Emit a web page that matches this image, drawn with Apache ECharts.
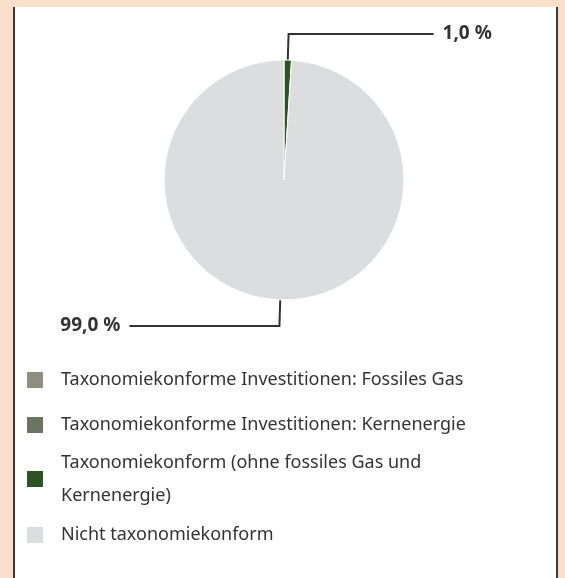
<!DOCTYPE html>
<html>
<head>
<meta charset="utf-8">
<script src="https://cdn.jsdelivr.net/npm/echarts@6/dist/echarts.min.js"></script>
<style>
  html, body { margin: 0; padding: 0; background: #fadfcb; }
  .out-frame { position: absolute; left: 13px; top: 7px; width: 541px; height: 580px;
    background: #fff; border-left: 2px solid #3a3a3a; border-right: 2px solid #3a3a3a; }
  #chart { position: absolute; left: 0; top: 0; width: 565px; height: 578px; }
</style>
</head>
<body>
<div class="out-frame"></div>
<div id="chart"></div>
<script>
  // Kategorien und Werte (Anteil in %)
  const categories = [
    'Taxonomiekonforme Investitionen: Fossiles Gas',
    'Taxonomiekonforme Investitionen: Kernenergie',
    'Taxonomiekonform (ohne fossiles Gas und Kernenergie)',
    'Nicht taxonomiekonform'
  ];
  const shares = [0, 0, 1.0, 99.0];
  const legendLines = [
    'Taxonomiekonforme Investitionen: Fossiles Gas',
    'Taxonomiekonforme Investitionen: Kernenergie',
    'Taxonomiekonform (ohne fossiles Gas und\nKernenergie)',
    'Nicht taxonomiekonform'
  ];

  const colors = ['#8e8f81', '#6c7461', '#2e5426', '#dcdddf'];
  const legendTops = [370, 415, 446, 525];
  const font = '"Noto Sans", sans-serif';

  const myChart = echarts.init(document.getElementById('chart'));

  const legends = categories.map(function (name, i) {
    const twoLines = legendLines[i].indexOf('\n') >= 0;
    return {
      data: [name],
      left: 25,
      top: legendTops[i],
      padding: 0,
      orient: 'vertical',
      icon: 'rect',
      itemWidth: 18,
      itemHeight: 18,
      selectedMode: false,
      formatter: function () { return legendLines[i]; },
      textStyle: {
        color: '#333',
        fontFamily: font,
        fontSize: 18,
        lineHeight: twoLines ? 33 : 18,
        padding: [0, 0, 0, 12]
      }
    };
  });

  const option = {
    animation: false,
    color: colors,
    legend: legends,
    series: [{
      type: 'pie',
      center: [284, 180],
      radius: 120,
      startAngle: 90,
      clockwise: true,
      avoidLabelOverlap: false,
      itemStyle: { borderColor: '#fff', borderWidth: 1 },
      emphasis: { disabled: true },
      label: {
        show: true,
        color: '#333',
        fontFamily: font,
        fontSize: 19,
        fontWeight: 'bold',
        distanceToLabelLine: 9,
        formatter: function (p) {
          return p.value.toFixed(1).replace('.', ',') + ' %';
        }
      },
      labelLine: {
        show: true,
        length: 26,
        length2: 145,
        lineStyle: { color: '#333', width: 2 }
      },
      data: categories.map(function (name, i) {
        const item = { name: name, value: shares[i] };
        if (shares[i] === 0) {
          item.label = { show: false };
          item.labelLine = { show: false };
        } else if (shares[i] > 50) {
          item.labelLine = { length2: 150 };
        }
        return item;
      })
    }]
  };

  myChart.setOption(option);
</script>
</body>
</html>
